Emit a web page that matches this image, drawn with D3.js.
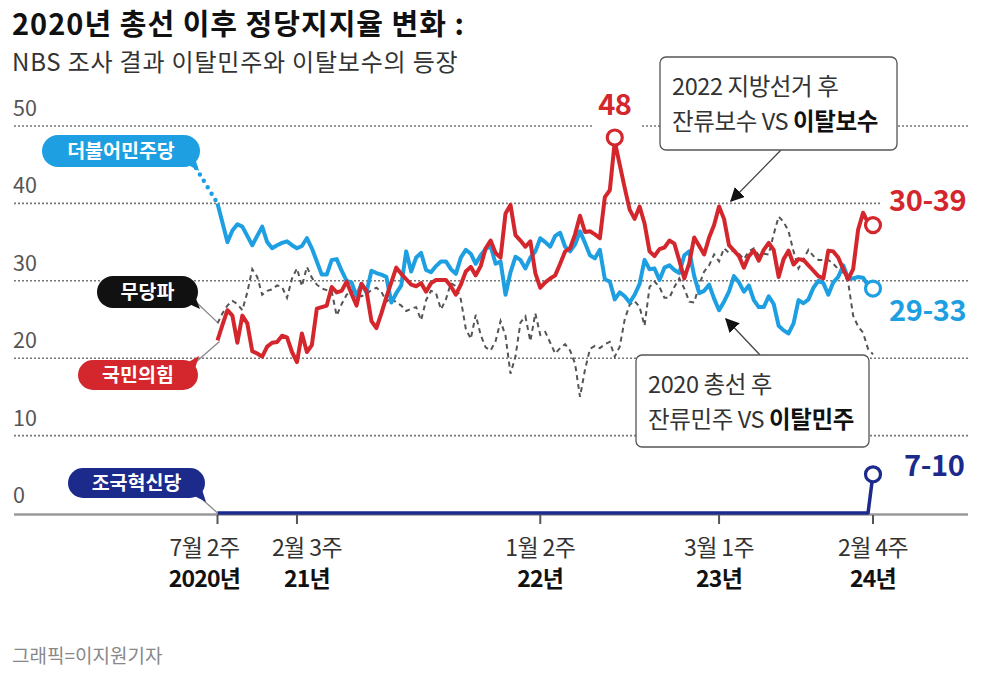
<!DOCTYPE html>
<html><head><meta charset="utf-8">
<script src="https://cdn.jsdelivr.net/npm/d3@7"></script>
<style>
body{margin:0;background:#fff}
svg{display:block}
text{font-family:"Noto Sans CJK KR","Noto Sans",sans-serif}
</style>
</head><body>
<svg id="c" width="982" height="673"></svg>
<script>
// ---- data (NBS survey sequence, % support) ----
const minjoo = [40,37.5,35,36.5,37.3,37,35.8,34.6,35.8,37,
35,34.2,34.6,34.9,35.1,34.6,34.2,34.5,35.5,34.2,
32.5,30.8,30.8,32.7,32.8,31.3,30,29.8,28,29.6,
28.5,31.3,31,30.8,30.5,27.2,28.4,29.4,33.8,31.2,
33,33.6,31.4,31.1,31.9,32.5,32.5,31.5,30.9,33,
34,33.5,32.2,33.3,34.1,34.5,32.2,32.5,28.2,31.1,
33.1,32.7,31.6,33,33.8,35.5,35,34.4,35.8,36.2,
34.4,33.8,34.7,36.4,34.9,33.3,32.9,34,30.2,29.9,
27.6,28.5,28,27.2,28.2,29.6,32.7,31.5,31.6,30.1,
31.7,32,31.4,31,33.3,33.8,30.6,28.4,28.7,29.5,
27.7,26.2,27.3,28.6,30.6,29.8,28.6,29.4,27.5,26.6,
26.6,28,27,24.2,23.6,23.2,24.5,27.5,27.1,27.6,
29.1,30,29.7,28.2,29.8,30.5,32,30.3,30.3,30.5,
30.4,29.4,29];
const ppp = [22.3,24.3,26.2,25.5,22,25.5,24.5,20.9,20.6,20.2,
21.5,22,22.1,22.9,22.7,20.8,19.5,23.2,20.8,21.7,
26.4,26.6,26.8,29.2,28.5,28.7,29.9,28.3,26.8,29.6,
28.7,24.8,23.9,25.8,27.9,29.8,31.7,30.9,30.2,29.5,
29.3,29.7,28.6,29.7,30.1,30.1,30.1,29.3,28.2,29.5,
31.2,31.8,30.7,31.9,34.2,35.2,33.6,33,38.7,39.8,
35.9,35.2,34.4,35.1,31,29.1,29.8,30.3,30.7,32.2,
33.8,34.2,36,38.4,36.3,36.4,36,35.5,40.8,41.7,
48,45,42,39.2,38,39.6,37.4,33.8,33.2,34.1,
34.3,35.2,34.8,32.6,30.3,32.3,35.6,34.5,33.4,35.6,
37.2,39.6,38,34.6,33.9,33.2,31.7,33.2,33.9,32.6,
34,34.9,34,30.5,32.8,33.9,32.1,32.8,32.7,32,
31.3,30.6,30.3,33.9,33.8,33,31.5,30.2,31.5,36.6,
38.8,37.5,37.2];
const independents = [24.5,25.8,26.8,27.4,27,26.2,28.5,31.5,30.5,28.2,
28.7,28.9,29.4,29.2,27.8,30.3,31.6,29.3,31.8,30.4,
29.5,29,28.8,28.6,25.5,27,28.2,28.7,28.4,28,
28.3,28.8,29.1,28.6,27.3,27.8,27.2,26.8,26.1,26.4,
26.6,24.9,27.5,28.7,28.4,26.3,27.6,29.7,29.3,27.6,
23.8,22.5,25.6,23,21.4,21,22.2,24.8,22.9,18,
20.2,24.6,25.4,22.2,25.8,23,23.4,22,20.6,21.3,
21.8,21,19.3,15,18.5,21.2,21.6,21.3,21.8,22.1,
20.2,21.5,25,26.9,27.4,26.6,24.2,29.2,29.9,29.2,
27.8,27.8,29.2,30.3,29,27.3,27.2,29.5,31.2,32,
33.4,32.5,34.2,33.6,34,33.5,32.8,33.8,34.2,33.3,
33.5,33.4,36,38.3,37.6,36.4,33.8,31.6,32.8,34,
33.2,32.7,32.7,32.7,32.2,31.5,31.1,29.8,25.5,24.1,
23.3,21.2,20.5];
const rebuilding = [0,0,0,0,0,0,0,0,0,0,
0,0,0,0,0,0,0,0,0,0,
0,0,0,0,0,0,0,0,0,0,
0,0,0,0,0,0,0,0,0,0,
0,0,0,0,0,0,0,0,0,0,
0,0,0,0,0,0,0,0,0,0,
0,0,0,0,0,0,0,0,0,0,
0,0,0,0,0,0,0,0,0,0,
0,0,0,0,0,0,0,0,0,0,
0,0,0,0,0,0,0,0,0,0,
0,0,0,0,0,0,0,0,0,0,
0,0,0,0,0,0,0,0,0,0,
0,0,0,0,0,0,0,0,0,0,
0,0,5];
const tickIdx = [0,16,65,101,132];
const tickLine1 = ["7월 2주","2월 3주","1월 2주","3월 1주","2월 4주"];
const tickLine2 = ["2020년","21년","22년","23년","24년"];
const yTicks = [0,10,20,30,40,50];
const peakIdx = 80;
const peakLabel = "48";
const rangeLabels = {ppp:"30-39", minjoo:"29-33", rebuilding:"7-10"};
const partyNames = {minjoo:"더불어민주당", independents:"무당파", ppp:"국민의힘", rebuilding:"조국혁신당"};

// ---- styles ----
const C = {minjoo:"#1e9fe2", ppp:"#d3272d", independents:"#555", rebuilding:"#1c2a8c", black:"#111"};

const svg = d3.select("#c");
const x = d3.scaleLinear().domain([0,132]).range([217.5,873]);
const y = d3.scaleLinear().domain([0,50]).range([513,126]);

// title
svg.append("text").attr("x",12).attr("y",34.5).attr("font-size",29).attr("font-weight",700)
  .attr("fill","#111").attr("letter-spacing",1).text("2020년 총선 이후 정당지지율 변화 :");
svg.append("text").attr("x",12).attr("y",71).attr("font-size",24).attr("fill","#333")
  .attr("letter-spacing",0.8).text("NBS 조사 결과 이탈민주와 이탈보수의 등장");

// gridlines
const grid = svg.append("g");
yTicks.filter(d=>d>0).forEach(v=>{
  grid.append("line").attr("x1",14).attr("x2",968).attr("y1",y(v)).attr("y2",y(v))
    .attr("stroke","#777").attr("stroke-width",1.6).attr("stroke-dasharray","2 2");
});
yTicks.forEach(v=>{
  svg.append("text").attr("x",13).attr("y",y(v)-10).attr("font-size",21.5).attr("fill","#555").text(v);
});
// white gaps
svg.append("rect").attr("x",593).attr("y",y(50)-6).attr("width",48).attr("height",12).attr("fill","#fff");

// axis
svg.append("line").attr("x1",14).attr("x2",968).attr("y1",y(0)+1.5).attr("y2",y(0)+1.5)
  .attr("stroke","#999").attr("stroke-width",2.5);
const tg = svg.append("g");
tickIdx.forEach((t,i)=>{
  const tx = x(t);
  const off = i===0 ? -13 : (i===1 ? 10 : 0);
  tg.append("line").attr("x1",tx).attr("x2",tx).attr("y1",y(0)+2).attr("y2",y(0)+11)
    .attr("stroke","#555").attr("stroke-width",2);
  tg.append("text").attr("x",tx+off).attr("y",556).attr("text-anchor","middle").attr("font-size",23)
    .attr("fill","#333").attr("letter-spacing",-0.6).text(tickLine1[i]);
  tg.append("text").attr("x",tx+off).attr("y",587).attr("text-anchor","middle").attr("font-size",23)
    .attr("font-weight",700).attr("fill","#111").attr("letter-spacing",-0.8).text(tickLine2[i]);
});

// lines
const line = d3.line().x((d,i)=>x(i)).y(d=>y(d));
svg.append("path").datum(independents).attr("d",line).attr("fill","none")
  .attr("stroke",C.independents).attr("stroke-width",2).attr("stroke-dasharray","5 4");
svg.append("path").datum(minjoo).attr("d",line).attr("fill","none")
  .attr("stroke",C.minjoo).attr("stroke-width",4).attr("stroke-linejoin","round");
svg.append("path").datum(ppp).attr("d",line).attr("fill","none")
  .attr("stroke",C.ppp).attr("stroke-width",4).attr("stroke-linejoin","round");
svg.append("path").datum(rebuilding).attr("d",line).attr("fill","none")
  .attr("stroke",C.rebuilding).attr("stroke-width",3.5).attr("stroke-linejoin","round");

// connectors from labels
svg.append("line").attr("x1",196).attr("y1",168).attr("x2",x(0)).attr("y2",y(minjoo[0]))
  .attr("stroke",C.minjoo).attr("stroke-width",4.5).attr("stroke-linecap","round").attr("stroke-dasharray","0 7.5");
svg.append("line").attr("x1",196).attr("y1",302).attr("x2",x(0)).attr("y2",y(independents[0])-1)
  .attr("stroke","#888").attr("stroke-width",1.3);
svg.append("line").attr("x1",196).attr("y1",362).attr("x2",x(0)+2).attr("y2",y(ppp[0])+1)
  .attr("stroke","#888").attr("stroke-width",1.3);
svg.append("line").attr("x1",203).attr("y1",500).attr("x2",x(0)).attr("y2",y(0))
  .attr("stroke","#888").attr("stroke-width",1.3);

// pills
function pill(key, bx, by, w, h, tail, color){
  const g = svg.append("g");
  g.append("path").attr("d",tail).attr("fill",color);
  g.append("rect").attr("x",bx).attr("y",by).attr("width",w).attr("height",h).attr("rx",h/2).attr("fill",color);
  g.append("text").attr("x",bx+w/2).attr("y",by+h/2+7).attr("text-anchor","middle")
    .attr("font-size",19.5).attr("font-weight",700).attr("fill","#fff").text(partyNames[key]);
}
pill("minjoo",42,135,158,32,"M176 158 L199 171 L192 148 Z",C.minjoo);
pill("independents",97,276,101,32,"M176 298 L200 309 L192 288 Z",C.black);
pill("ppp",78,360,120,30,"M178 368 L199 356 L192 378 Z",C.ppp);
pill("rebuilding",68,468,137,30,"M183 490 L206 502 L199 480 Z",C.rebuilding);

// end markers and labels
function marker(cx, cy, color){
  svg.append("circle").attr("cx",cx).attr("cy",cy).attr("r",7.5).attr("fill","#fff")
    .attr("stroke",color).attr("stroke-width",3.2);
}
marker(x(peakIdx), y(ppp[peakIdx])-4, C.ppp);
svg.append("text").attr("x",x(peakIdx)).attr("y",115).attr("text-anchor","middle").attr("font-size",29)
  .attr("font-weight",700).attr("fill",C.ppp).attr("letter-spacing",-0.5).text(peakLabel);
const last = 132;
marker(x(last), y(ppp[last]), C.ppp);
marker(x(last), y(minjoo[last]), C.minjoo);
marker(x(last), y(rebuilding[last]), C.rebuilding);
svg.append("rect").attr("x",881).attr("y",186).attr("width",95).attr("height",30).attr("fill","#fff");
svg.append("text").attr("x",889).attr("y",211).attr("font-size",29).attr("font-weight",700)
  .attr("fill",C.ppp).attr("letter-spacing",-0.4).text(rangeLabels.ppp);
svg.append("text").attr("x",889).attr("y",321).attr("font-size",29).attr("font-weight",700)
  .attr("fill",C.minjoo).attr("letter-spacing",-0.4).text(rangeLabels.minjoo);
svg.append("text").attr("x",904).attr("y",476).attr("font-size",29).attr("font-weight",700)
  .attr("fill",C.rebuilding).attr("letter-spacing",-0.4).text(rangeLabels.rebuilding);

// annotation boxes
const defs = svg.append("defs");
defs.append("marker").attr("id","arr").attr("viewBox","0 0 10 10").attr("refX",9).attr("refY",5)
  .attr("markerWidth",14).attr("markerHeight",14).attr("markerUnits","userSpaceOnUse").attr("orient","auto")
  .append("path").attr("d","M0 0 L10 5 L0 10 Z").attr("fill","#111");
svg.append("line").attr("x1",781).attr("y1",150).attr("x2",731).attr("y2",201)
  .attr("stroke","#444").attr("stroke-width",1.3).attr("marker-end","url(#arr)");
svg.append("line").attr("x1",760).attr("y1",355).attr("x2",726).attr("y2",319)
  .attr("stroke","#444").attr("stroke-width",1.3).attr("marker-end","url(#arr)");

function box(bx, by, w, h, l1, l2a, l2b){
  svg.append("rect").attr("x",bx).attr("y",by).attr("width",w).attr("height",h).attr("rx",6)
    .attr("fill","#fff").attr("stroke","#555").attr("stroke-width",1.3);
  svg.append("text").attr("x",bx+12).attr("y",by+38).attr("font-size",23.5).attr("fill","#333")
    .attr("letter-spacing",-0.4).text(l1);
  const t = svg.append("text").attr("x",bx+12).attr("y",by+73).attr("font-size",23.5).attr("fill","#333")
    .attr("letter-spacing",-0.4);
  t.append("tspan").text(l2a);
  t.append("tspan").attr("font-weight",700).attr("fill","#111").text(l2b);
}
box(660,57,237,93,"2022 지방선거 후","잔류보수 VS ","이탈보수");
box(636,355,233,92,"2020 총선 후","잔류민주 VS ","이탈민주");

// credit
svg.append("text").attr("x",12).attr("y",663).attr("font-size",19).attr("fill","#888")
  .attr("letter-spacing",0).text("그래픽=이지원기자");
</script>
</body></html>
